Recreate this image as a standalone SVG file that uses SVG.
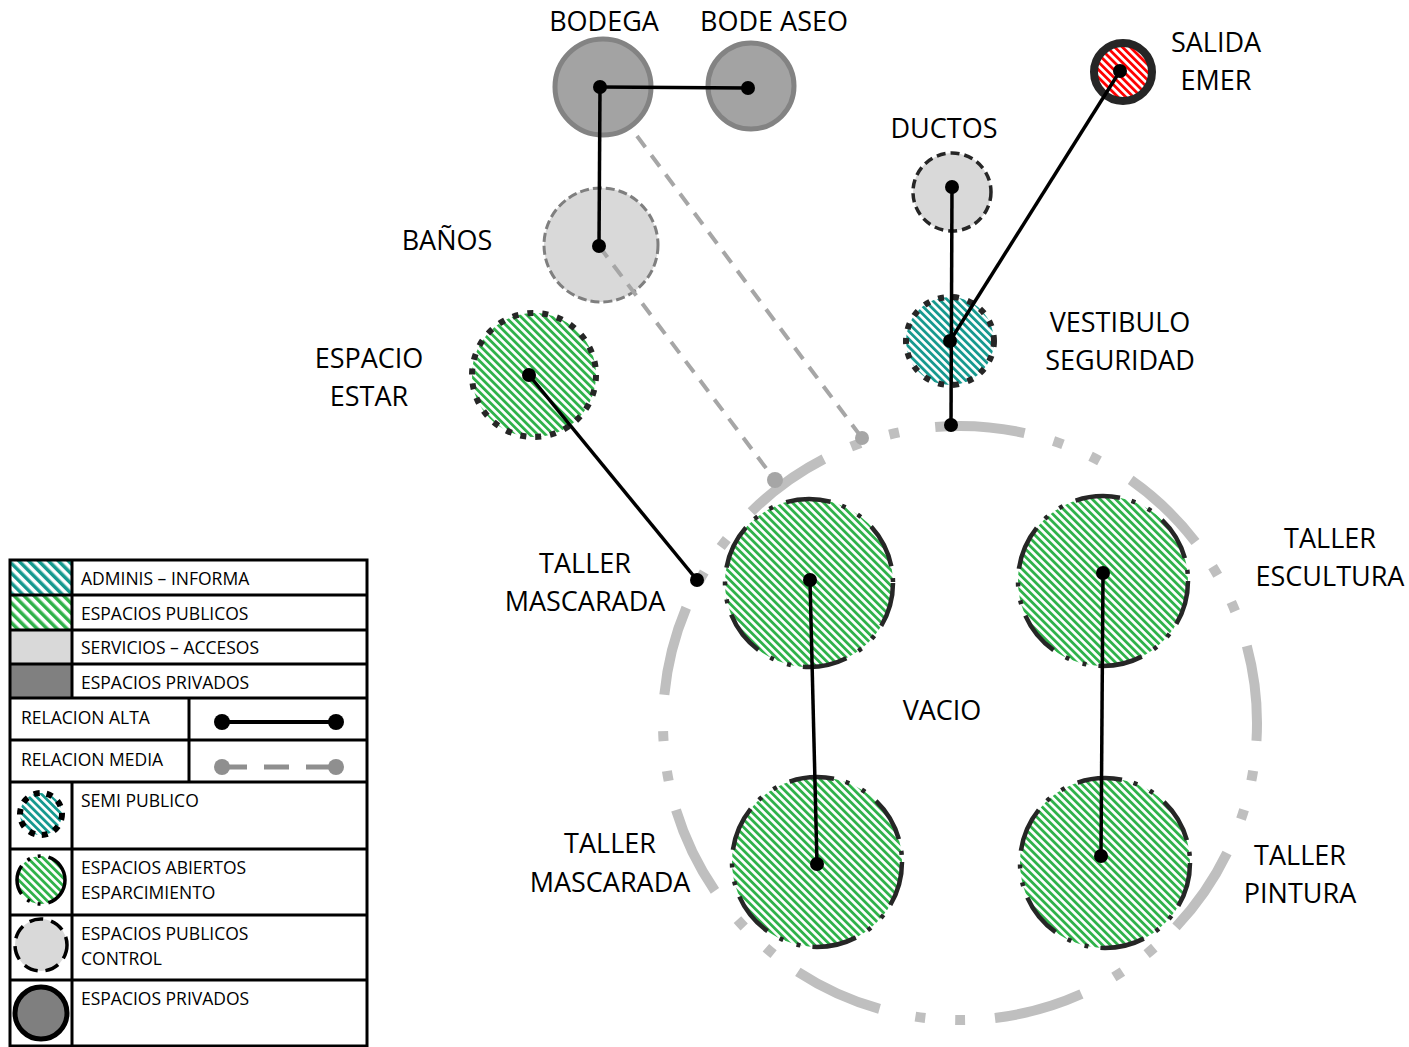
<svg xmlns="http://www.w3.org/2000/svg" width="1409" height="1047" viewBox="0 0 1409 1047">
<defs>
<pattern id="hg" width="5.5" height="5.5" patternUnits="userSpaceOnUse" patternTransform="rotate(-45)"><rect width="5.5" height="5.5" fill="#fff"/><rect width="2.8" height="5.5" fill="#2fb24a"/></pattern>
<pattern id="ht" width="5.5" height="5.5" patternUnits="userSpaceOnUse" patternTransform="rotate(-45)"><rect width="5.5" height="5.5" fill="#fff"/><rect width="2.8" height="5.5" fill="#16998f"/></pattern>
<pattern id="hr" width="5.5" height="5.5" patternUnits="userSpaceOnUse" patternTransform="rotate(-45)"><rect width="5.5" height="5.5" fill="#fff"/><rect width="2.8" height="5.5" fill="#ff0000"/></pattern>
<pattern id="hgL" width="7" height="7" patternUnits="userSpaceOnUse" patternTransform="rotate(-45)"><rect width="7" height="7" fill="#fff"/><rect width="3.5" height="7" fill="#2fb24a"/></pattern>
<pattern id="htL" width="7" height="7" patternUnits="userSpaceOnUse" patternTransform="rotate(-45)"><rect width="7" height="7" fill="#fff"/><rect width="3.5" height="7" fill="#16998f"/></pattern>
</defs>
<style>
.lbl{font-family:"Open Sans","Liberation Sans",sans-serif;font-size:27px;fill:#000;text-anchor:middle}
.lg{font-family:"Open Sans","Liberation Sans",sans-serif;font-size:17.5px;fill:#000}
.cell{fill:none;stroke:#000;stroke-width:3}
.priv{fill:#a3a3a3;stroke:#838383;stroke-width:5}
.ctrl{fill:#d9d9d9;stroke:#7f7f7f;stroke-width:3;stroke-dasharray:9 4}
.ctrlk{fill:#d9d9d9;stroke:#262626;stroke-width:3.5;stroke-dasharray:9 5}
.semi{stroke:#262626;stroke-width:6;stroke-dasharray:6 9}
.open{fill:url(#hg);stroke:#262626;stroke-width:4.5;stroke-dasharray:45 12 4 14 4 14}
.alta{stroke:#000;stroke-width:3.5;fill:none}
.media{stroke:#a6a6a6;stroke-width:4;fill:none;stroke-dasharray:14 10}
.dk{fill:#000}
.dg{fill:#a6a6a6}
</style>

<g id="vacio">
<circle cx="960" cy="723" r="297" fill="none" stroke="#bfbfbf" stroke-width="10" stroke-dasharray="90 30 10 30 10 36.6" stroke-dashoffset="72"/>
<text class="lbl" x="942" y="720">VACIO</text>
</g>

<g id="bodega"><circle class="priv" cx="603" cy="87" r="48"/><text class="lbl" x="604" y="31">BODEGA</text></g>
<g id="bode-aseo"><circle class="priv" cx="751" cy="86" r="43" fill="#a8a8a8"/><text class="lbl" x="774" y="31">BODE ASEO</text></g>
<g id="banos"><circle class="ctrl" cx="601" cy="245" r="57"/><text class="lbl" x="447" y="250">BAÑOS</text></g>
<g id="espacio-estar"><circle class="semi" fill="url(#hg)" cx="534" cy="375" r="62"/><text class="lbl" x="369" y="368">ESPACIO</text><text class="lbl" x="369" y="406">ESTAR</text></g>
<g id="ductos"><circle class="ctrlk" cx="952" cy="192" r="39"/><text class="lbl" x="944" y="138">DUCTOS</text></g>
<g id="vestibulo"><circle class="semi" fill="url(#ht)" cx="950" cy="341" r="44"/><text class="lbl" x="1120" y="332">VESTIBULO</text><text class="lbl" x="1120" y="370">SEGURIDAD</text></g>
<g id="salida"><circle cx="1123" cy="72" r="29" fill="url(#hr)" stroke="#262626" stroke-width="8"/><text class="lbl" x="1216" y="52">SALIDA</text><text class="lbl" x="1216" y="90">EMER</text></g>
<g id="taller-mascarada-1"><circle class="open" cx="809" cy="583" r="84"/><text class="lbl" x="585" y="573">TALLER</text><text class="lbl" x="585" y="611">MASCARADA</text></g>
<g id="taller-escultura"><circle class="open" cx="1103" cy="581" r="85"/><text class="lbl" x="1330" y="548">TALLER</text><text class="lbl" x="1330" y="586">ESCULTURA</text></g>
<g id="taller-mascarada-2"><circle class="open" cx="817" cy="862" r="85"/><text class="lbl" x="610" y="853">TALLER</text><text class="lbl" x="610" y="892">MASCARADA</text></g>
<g id="taller-pintura"><circle class="open" cx="1105" cy="863" r="85"/><text class="lbl" x="1300" y="865">TALLER</text><text class="lbl" x="1300" y="903">PINTURA</text></g>

<g id="connectors">
<line class="media" x1="637" y1="136" x2="862" y2="438"/>
<line class="media" x1="599" y1="246" x2="775" y2="480"/>
<circle class="dg" cx="862" cy="438" r="7"/>
<circle class="dg" cx="775" cy="480" r="8"/>
<line class="alta" x1="600" y1="87" x2="748" y2="88"/>
<line class="alta" x1="600" y1="87" x2="599" y2="246"/>
<line class="alta" x1="952" y1="187" x2="951" y2="425"/>
<line class="alta" x1="1120" y1="71" x2="950" y2="341"/>
<line class="alta" x1="529" y1="375" x2="697" y2="580"/>
<line class="alta" x1="810" y1="580" x2="817" y2="864"/>
<line class="alta" x1="1103" y1="573" x2="1101" y2="856"/>
<circle class="dk" cx="600" cy="87" r="7"/>
<circle class="dk" cx="748" cy="88" r="7"/>
<circle class="dk" cx="599" cy="246" r="7"/>
<circle class="dk" cx="952" cy="187" r="7"/>
<circle class="dk" cx="951" cy="425" r="7"/>
<circle class="dk" cx="950" cy="341" r="7"/>
<circle class="dk" cx="1120" cy="71" r="7"/>
<circle class="dk" cx="529" cy="375" r="7"/>
<circle class="dk" cx="697" cy="580" r="7"/>
<circle class="dk" cx="810" cy="580" r="7"/>
<circle class="dk" cx="817" cy="864" r="7"/>
<circle class="dk" cx="1103" cy="573" r="7"/>
<circle class="dk" cx="1101" cy="856" r="7"/>
</g>

<g id="legend">
<rect x="10" y="560" width="62" height="35" fill="url(#htL)"/>
<rect x="10" y="595" width="62" height="35" fill="url(#hgL)"/>
<rect x="10" y="630" width="62" height="34" fill="#d9d9d9"/>
<rect x="10" y="664" width="62" height="34" fill="#808080"/>
<rect class="cell" x="10" y="560" width="357" height="486"/>
<line class="cell" x1="10" y1="595" x2="367" y2="595"/>
<line class="cell" x1="10" y1="630" x2="367" y2="630"/>
<line class="cell" x1="10" y1="664" x2="367" y2="664"/>
<line class="cell" x1="10" y1="698" x2="367" y2="698"/>
<line class="cell" x1="10" y1="740" x2="367" y2="740"/>
<line class="cell" x1="10" y1="782" x2="367" y2="782"/>
<line class="cell" x1="10" y1="849" x2="367" y2="849"/>
<line class="cell" x1="10" y1="915" x2="367" y2="915"/>
<line class="cell" x1="10" y1="980" x2="367" y2="980"/>
<line class="cell" x1="72" y1="560" x2="72" y2="698"/>
<line class="cell" x1="189" y1="698" x2="189" y2="782"/>
<line class="cell" x1="72" y1="782" x2="72" y2="1046"/>
<text class="lg" x="81" y="585">ADMINIS – INFORMA</text>
<text class="lg" x="81" y="620">ESPACIOS PUBLICOS</text>
<text class="lg" x="81" y="654">SERVICIOS – ACCESOS</text>
<text class="lg" x="81" y="689">ESPACIOS PRIVADOS</text>
<text class="lg" x="21" y="724">RELACION ALTA</text>
<text class="lg" x="21" y="766">RELACION MEDIA</text>
<line x1="222" y1="722" x2="336" y2="722" stroke="#000" stroke-width="4"/>
<circle class="dk" cx="222" cy="722" r="8"/>
<circle class="dk" cx="336" cy="722" r="8"/>
<line x1="222" y1="767" x2="336" y2="767" stroke="#8f8f8f" stroke-width="5" stroke-dasharray="25 17 25 17 32"/>
<circle cx="222" cy="767" r="8" fill="#8f8f8f"/>
<circle cx="336" cy="767" r="8" fill="#8f8f8f"/>
<circle cx="41" cy="814" r="21" fill="url(#ht)" stroke="#000" stroke-width="6" stroke-dasharray="6 7"/>
<circle cx="41" cy="880" r="24" fill="url(#hg)" stroke="#000" stroke-width="3.5" stroke-dasharray="30 8 3 8 3 8"/>
<circle cx="41" cy="945" r="26" fill="#d9d9d9" stroke="#000" stroke-width="3.5" stroke-dasharray="14 8"/>
<circle cx="41" cy="1013" r="26" fill="#7f7f7f" stroke="#000" stroke-width="5"/>
<text class="lg" x="81" y="807">SEMI PUBLICO</text>
<text class="lg" x="81" y="874">ESPACIOS ABIERTOS</text>
<text class="lg" x="81" y="899">ESPARCIMIENTO</text>
<text class="lg" x="81" y="940">ESPACIOS PUBLICOS</text>
<text class="lg" x="81" y="965">CONTROL</text>
<text class="lg" x="81" y="1005">ESPACIOS PRIVADOS</text>
</g>
</svg>
